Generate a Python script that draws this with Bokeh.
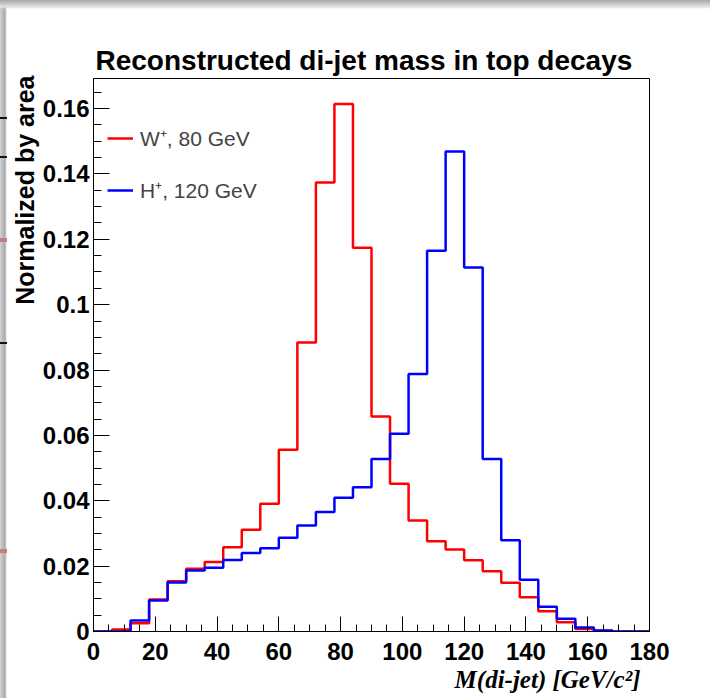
import numpy as np
from math import pi
from bokeh.plotting import figure
from bokeh.models import Range1d, FixedTicker, Legend, LegendItem, Title
from bokeh.embed import file_html
from bokeh.resources import INLINE

# ---- data (normalized by area, 6 GeV bins) ----
bin_edges = list(range(0, 181, 6))
w_values = [0.0, 0.0006, 0.0025, 0.0098, 0.0154, 0.0192, 0.0213, 0.0258, 0.0311, 0.0391,
            0.0556, 0.0884, 0.1374, 0.1614, 0.1174, 0.0658, 0.0452, 0.0340, 0.0276, 0.0251,
            0.0218, 0.0184, 0.0149, 0.0105, 0.0062, 0.0028, 0.0008, 0.0002, 0.0, 0.0]
h_values = [0.0, 0.0, 0.0034, 0.0095, 0.0150, 0.0187, 0.0195, 0.0219, 0.0240, 0.0255,
            0.0287, 0.0324, 0.0366, 0.0409, 0.0441, 0.0528, 0.0605, 0.0788, 0.1165, 0.1469,
            0.1114, 0.0528, 0.0279, 0.0158, 0.0076, 0.0039, 0.0012, 0.0003, 0.0, 0.0]
series_labels = ["W\u207a, 80 GeV", "H\u207a, 120 GeV"]
x_ticks = [0, 20, 40, 60, 80, 100, 120, 140, 160, 180]
y_ticks = [0, 0.02, 0.04, 0.06, 0.08, 0.1, 0.12, 0.14, 0.16]
y_tick_labels = ["0", "0.02", "0.04", "0.06", "0.08", "0.1", "0.12", "0.14", "0.16"]
x_minor = list(range(0, 181, 5))
y_minor = [round(i * 0.005, 3) for i in range(34)]
x_title = "M(di-jet) [GeV/c\u00b2]"
y_title = "Normalized by area"

SANS = "Liberation Sans"
SERIF = "Liberation Serif"

p = figure(frame_width=556, frame_height=553,
           min_border_left=93, min_border_right=61, min_border_top=78, min_border_bottom=67,
           x_range=Range1d(0, 180), y_range=Range1d(0, 0.1692),
           output_backend="svg", toolbar_location=None,
           title="Reconstructed di-jet mass in top decays")

# page edge: slide shadow and bits of the neighbouring slide seen in the screenshot
p.border_fill_alpha = 0
p.background_fill_color = "white"
_solid_black = "linear-gradient(#111111, #111111)"
_solid_pink = "linear-gradient(#c97c7c, #c97c7c)"
p.styles = {
    "background-color": "#ffffff",
    "background-image": ", ".join([
        _solid_black, _solid_black, _solid_black, _solid_pink, _solid_pink,
        "linear-gradient(to bottom, #a8a8a8 0px, #e4e4e4 7px, rgba(255,255,255,0) 9px)",
        "linear-gradient(to right, #d2d2d2 0px, #a9a9a9 5px, #ffffff 7px)",
    ]),
    "background-size": "7px 2px, 7px 2px, 7px 2px, 7px 4px, 7px 4px, 100% 9px, 7px 100%",
    "background-position": "0px 117px, 0px 156px, 0px 342px, 0px 238px, 0px 549px, 0px 0px, 0px 0px",
    "background-repeat": "no-repeat",
}

p.title.text_font = SANS
p.title.text_font_style = "bold"
p.title.text_font_size = "28px"
p.title.text_color = "black"
p.title.align = "left"
p.title.offset = 2
p.title.standoff = 6

p.xgrid.visible = False
p.ygrid.visible = False
p.outline_line_color = "black"
p.outline_line_width = 1
p.outline_line_alpha = 1

# step histograms
w_y = w_values + [w_values[-1]]
h_y = h_values + [h_values[-1]]
r_w = p.step(bin_edges, w_y, mode="after", line_color="#ff0000", line_width=2.5)
r_h = p.step(bin_edges, h_y, mode="after", line_color="#0000ff", line_width=2.5)

# axes
xa = p.xaxis[0]
ya = p.yaxis[0]
xa.ticker = FixedTicker(ticks=x_ticks, minor_ticks=x_minor)
ya.ticker = FixedTicker(ticks=y_ticks, minor_ticks=y_minor)
ya.major_label_overrides = dict(zip(y_ticks, y_tick_labels))
for ax in (xa, ya):
    ax.axis_line_color = "black"
    ax.axis_line_width = 1
    ax.major_tick_out = 0
    ax.minor_tick_out = 0
    ax.major_tick_line_color = "black"
    ax.minor_tick_line_color = "black"
    ax.major_tick_line_width = 1
    ax.minor_tick_line_width = 1
    ax.major_label_text_font = SANS
    ax.major_label_text_font_style = "bold"
    ax.major_label_text_font_size = "24px"
    ax.major_label_text_color = "black"
xa.major_tick_in = 15
xa.minor_tick_in = 7
xa.major_label_standoff = 11
ya.major_tick_in = 16
ya.minor_tick_in = 8
ya.major_label_standoff = 4

# axis titles (ROOT style: aligned to the end of the axis)
p.add_layout(Title(text=x_title, align="right", offset=9, standoff=2,
                   text_font=SERIF, text_font_style="bold italic", text_font_size="25px",
                   text_color="black"), "below")
p.add_layout(Title(text=y_title, align="right", offset=-3, standoff=2,
                   text_font=SANS, text_font_style="bold", text_font_size="25px",
                   text_color="black"), "left")

legend = Legend(items=[LegendItem(label=series_labels[0], renderers=[r_w]),
                       LegendItem(label=series_labels[1], renderers=[r_h])],
                location=(14, 427), border_line_alpha=0, background_fill_alpha=0,
                label_text_font=SANS, label_text_font_size="21px",
                glyph_width=26, glyph_height=20, label_height=20,
                spacing=24, padding=0, margin=0, label_standoff=7)
p.add_layout(legend)

open("out.html", "w").write(file_html(p, INLINE))
